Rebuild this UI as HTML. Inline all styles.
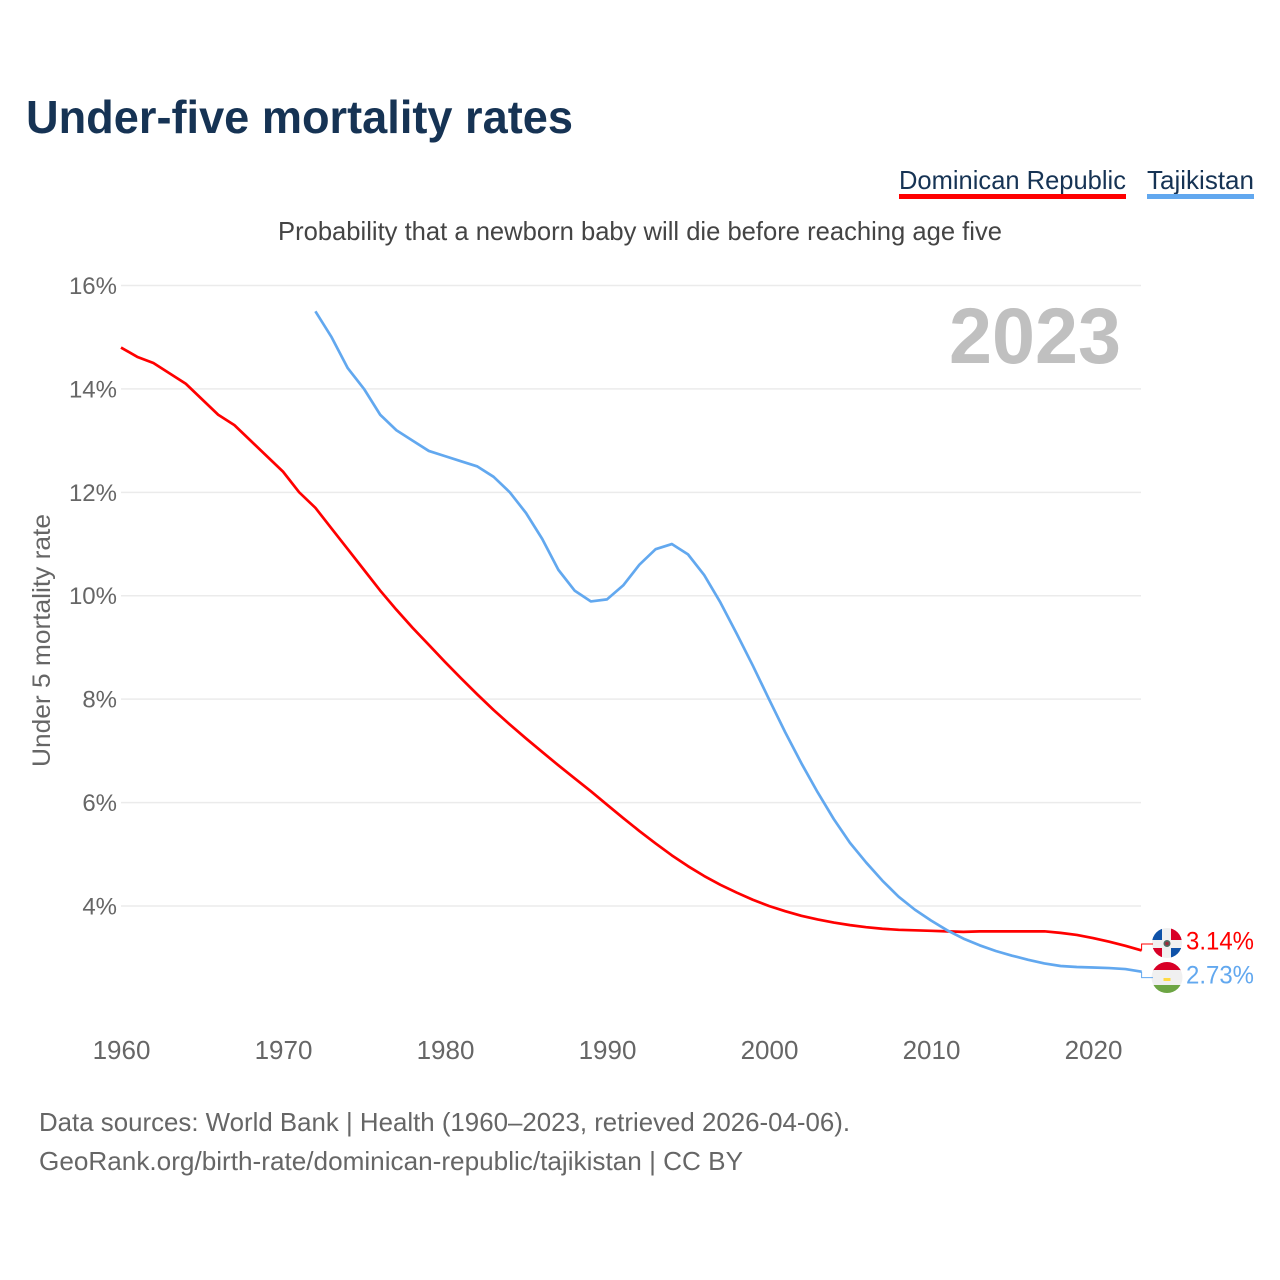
<!DOCTYPE html>
<html lang="en">
<head>
<meta charset="utf-8">
<title>Under-five mortality rates</title>
<style>
html,body{margin:0;padding:0;background:#fff;}
svg{display:block;font-family:"Liberation Sans",sans-serif;}
</style>
</head>
<body>
<svg id="chart" width="1280" height="1280" viewBox="0 0 1280 1280" xmlns="http://www.w3.org/2000/svg">
  <defs>
    <clipPath id="clip-dr"><circle cx="1167" cy="943" r="15"/></clipPath>
    <clipPath id="clip-tj"><circle cx="1167" cy="977.5" r="15.5"/></clipPath>
  </defs>
  <rect width="1280" height="1280" fill="#fff"/>
  <text x="26" y="133" font-size="46" font-weight="700" fill="#163354" textLength="547" lengthAdjust="spacingAndGlyphs">Under-five mortality rates</text>

  <g>
    <g>
      <text x="899" y="189" font-size="26" fill="#163354" textLength="227" lengthAdjust="spacingAndGlyphs">Dominican Republic</text>
      <rect x="899" y="194" width="227" height="5" fill="#ff0000"/>
    </g>
    <g>
      <text x="1147" y="189" font-size="26" fill="#163354" textLength="107" lengthAdjust="spacingAndGlyphs">Tajikistan</text>
      <rect x="1147" y="194" width="107" height="5" fill="#62a8ef"/>
    </g>
  </g>

  <text x="278" y="240" font-size="26" fill="#444444" textLength="724" lengthAdjust="spacingAndGlyphs">Probability that a newborn baby will die before reaching age five</text>

  <g id="grid"></g>
  <g id="y-ticks"></g>
  <g id="x-ticks"></g>

  <text transform="translate(50,767) rotate(-90)" x="0" y="0" font-size="25" fill="#666666" textLength="253" lengthAdjust="spacingAndGlyphs">Under 5 mortality rate</text>

  <text x="949" y="363" font-size="79" font-weight="700" fill="#c0c0c0" textLength="172" lengthAdjust="spacingAndGlyphs">2023</text>

  <g id="series"></g>

  <g clip-path="url(#clip-dr)">
    <rect x="1151" y="927" width="32" height="32" fill="#f0f0f0"/>
    <rect x="1151" y="927" width="11" height="13" fill="#0f52a8"/>
    <rect x="1171" y="948" width="12" height="11" fill="#0f52a8"/>
    <rect x="1171" y="927" width="12" height="13" fill="#d80027"/>
    <rect x="1151" y="948" width="11" height="11" fill="#d80027"/>
    <circle cx="1167" cy="943.500" r="3.500" fill="#4f6a60"/>
    <circle cx="1167" cy="943.500" r="1.800" fill="#a02a3a"/>
  </g>
  <g clip-path="url(#clip-tj)">
    <rect x="1151" y="962" width="32" height="9" fill="#d80027"/>
    <rect x="1151" y="970" width="32" height="15" fill="#f0f0f0"/>
    <rect x="1151" y="985" width="32" height="9" fill="#6da544"/>
    <rect x="1163.500" y="978" width="7" height="3" fill="#ffda44"/>
  </g>

  <g id="end-labels"></g>

  <text x="39" y="1131" font-size="26" fill="#666666" textLength="811" lengthAdjust="spacingAndGlyphs">Data sources: World Bank | Health (1960–2023, retrieved 2026-04-06).</text>
  <text x="39" y="1170" font-size="26" fill="#666666" textLength="704" lengthAdjust="spacingAndGlyphs">GeoRank.org/birth-rate/dominican-republic/tajikistan | CC BY</text>
</svg>

<script>
const yTickValues = [4, 6, 8, 10, 12, 14, 16];
const yTickLabels = ["4%", "6%", "8%", "10%", "12%", "14%", "16%"];
const xTickYears = [1960, 1970, 1980, 1990, 2000, 2010, 2020];
const xTickLabels = ["1960", "1970", "1980", "1990", "2000", "2010", "2020"];
const drStartYear = 1960;
const drValues = [14.8, 14.62, 14.5, 14.3, 14.1, 13.8, 13.5, 13.3, 13.0, 12.7, 12.4, 12.0, 11.7, 11.3, 10.9, 10.5, 10.1, 9.73, 9.38, 9.05, 8.72, 8.4, 8.09, 7.79, 7.51, 7.24, 6.98, 6.72, 6.47, 6.22, 5.96, 5.7, 5.45, 5.21, 4.98, 4.77, 4.58, 4.41, 4.26, 4.12, 4.0, 3.9, 3.81, 3.74, 3.68, 3.63, 3.59, 3.56, 3.54, 3.53, 3.52, 3.51, 3.5, 3.51, 3.51, 3.51, 3.51, 3.51, 3.48, 3.44, 3.38, 3.31, 3.23, 3.14];
const tjStartYear = 1972;
const tjValues = [15.5, 15.0, 14.4, 14.0, 13.5, 13.2, 13.0, 12.8, 12.7, 12.6, 12.5, 12.3, 12.0, 11.6, 11.1, 10.5, 10.1, 9.89, 9.93, 10.2, 10.6, 10.9, 11.0, 10.8, 10.4, 9.87, 9.27, 8.65, 8.0, 7.36, 6.76, 6.2, 5.68, 5.22, 4.84, 4.49, 4.18, 3.93, 3.72, 3.53, 3.37, 3.24, 3.13, 3.04, 2.96, 2.89, 2.84, 2.82, 2.81, 2.8, 2.78, 2.73];

const NS = 'http://www.w3.org/2000/svg';
function xScale(year) { return 121 + (year - 1960) * 16.2; }
function yScale(value) { return 906 - (value - 4) * 51.71; }
function make(tag, parent, attrs, text) {
  const el = document.createElementNS(NS, tag);
  for (const k in attrs) el.setAttribute(k, attrs[k]);
  if (text !== undefined) el.textContent = text;
  parent.appendChild(el);
  return el;
}
const grid = document.getElementById('grid');
const yTicks = document.getElementById('y-ticks');
const xTicks = document.getElementById('x-ticks');
const series = document.getElementById('series');
const endLabels = document.getElementById('end-labels');

yTickValues.forEach(function (v, i) {
  const line = make('line', grid, { x1: 121, x2: 1141, y1: yScale(v), y2: yScale(v), stroke: '#ebebeb', 'stroke-width': 1.5 });
  
  
  const label = make('text', yTicks, { x: 117, y: yScale(v) + 8.5, 'text-anchor': 'end', 'font-size': 24, fill: '#666666' }, yTickLabels[i]);
  
  
});

xTickYears.forEach(function (yr, i) {
  const label = make('text', xTicks, { x: xScale(yr) + 0.5, y: 1059, 'text-anchor': 'middle', 'font-size': 26, fill: '#666666' }, xTickLabels[i]);
  
  
});

function pathFor(values, startYear) {
  return values.map(function (v, i) {
    return (i ? 'L' : 'M') + xScale(startYear + i).toFixed(2) + ' ' + yScale(v).toFixed(2);
  }).join(' ');
}

const drLine = make('path', series, { d: pathFor(drValues, drStartYear), fill: 'none', stroke: '#ff0000', 'stroke-width': 2.7, 'stroke-linejoin': 'round' });



const tjLine = make('path', series, { d: pathFor(tjValues, tjStartYear), fill: 'none', stroke: '#62a8ef', 'stroke-width': 2.7, 'stroke-linejoin': 'round' });



const endX = xScale(2023);
const drEndY = yScale(drValues[drValues.length - 1]);
const tjEndY = yScale(tjValues[tjValues.length - 1]);

const drLeader = make('path', endLabels, { d: 'M' + endX + ' ' + drEndY + ' L' + endX + ' ' + (drEndY - 6.5) + ' L1153 ' + (drEndY - 6.5), fill: 'none', stroke: '#ff0000', 'stroke-width': 1 });



const tjLeader = make('path', endLabels, { d: 'M' + endX + ' ' + tjEndY + ' L' + endX + ' ' + (tjEndY + 6) + ' L1153 ' + (tjEndY + 6), fill: 'none', stroke: '#62a8ef', 'stroke-width': 1 });



const drValueLabel = make('text', endLabels, { x: 1186, y: drEndY - 1, 'font-size': 25, fill: '#ff0000', textLength: 68, lengthAdjust: 'spacingAndGlyphs' }, drValues[drValues.length - 1].toFixed(2) + '%');



const tjValueLabel = make('text', endLabels, { x: 1186, y: tjEndY + 12, 'font-size': 25, fill: '#62a8ef', textLength: 68, lengthAdjust: 'spacingAndGlyphs' }, tjValues[tjValues.length - 1].toFixed(2) + '%');


</script>
</body>
</html>
